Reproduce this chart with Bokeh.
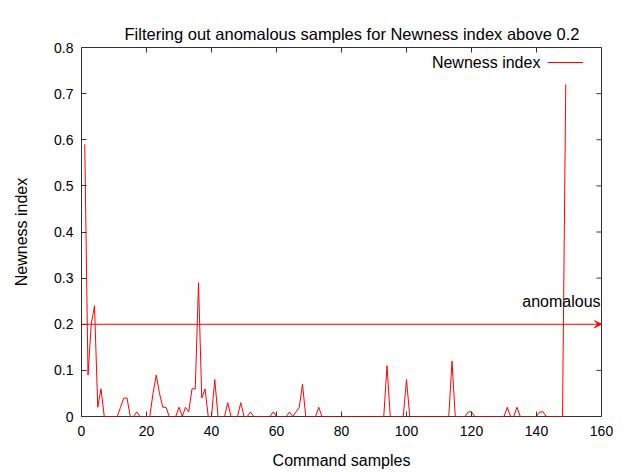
import math
from bokeh.plotting import figure
from bokeh.models import (Label, Arrow, VeeHead, FixedTicker, Legend, LinearAxis,
                          LegendItem, Range1d, ColumnDataSource)
from bokeh.embed import file_html
from bokeh.resources import INLINE

# ---- data ----
samples = list(range(1, 150))
newness = [
    0.59, 0.09, 0.20, 0.24, 0.02, 0.06, 0.00, 0.00, 0.00, 0.00,   # 1-10
    0.00, 0.02, 0.04, 0.04, 0.00, 0.00, 0.01, 0.00, 0.00, 0.00,   # 11-20
    0.00, 0.05, 0.09, 0.05, 0.02, 0.02, 0.00, 0.00, 0.00, 0.02,   # 21-30
    0.00, 0.02, 0.01, 0.06, 0.06, 0.29, 0.04, 0.06, 0.00, 0.00,   # 31-40
    0.08, 0.00, 0.00, 0.00, 0.03, 0.00, 0.00, 0.00, 0.03, 0.00,   # 41-50
    0.00, 0.01, 0.00, 0.00, 0.00, 0.00, 0.00, 0.00, 0.01, 0.00,   # 51-60
    0.00, 0.00, 0.00, 0.01, 0.00, 0.01, 0.02, 0.07, 0.00, 0.00,   # 61-70
    0.00, 0.00, 0.02, 0.00, 0.00, 0.00, 0.00, 0.00, 0.00, 0.00,   # 71-80
    0.00, 0.00, 0.00, 0.00, 0.00, 0.00, 0.00, 0.00, 0.00, 0.00,   # 81-90
    0.00, 0.00, 0.00, 0.11, 0.00, 0.00, 0.00, 0.00, 0.00, 0.08,   # 91-100
    0.00, 0.00, 0.00, 0.00, 0.00, 0.00, 0.00, 0.00, 0.00, 0.00,   # 101-110
    0.00, 0.00, 0.00, 0.12, 0.00, 0.00, 0.00, 0.00, 0.01, 0.01,   # 111-120
    0.00, 0.00, 0.00, 0.00, 0.00, 0.00, 0.00, 0.00, 0.00, 0.00,   # 121-130
    0.02, 0.00, 0.00, 0.02, 0.00, 0.00, 0.00, 0.00, 0.00, 0.00,   # 131-140
    0.01, 0.01, 0.00, 0.00, 0.00, 0.00, 0.00, 0.00, 0.72,         # 141-149
]
threshold = 0.2
x_min, x_max = 0, 160
y_min, y_max = 0, 0.8
x_ticks = [0, 20, 40, 60, 80, 100, 120, 140, 160]
y_ticks = [0, 0.1, 0.2, 0.3, 0.4, 0.5, 0.6, 0.7, 0.8]
y_tick_labels = {0: "0", 0.1: "0.1", 0.2: "0.2", 0.3: "0.3", 0.4: "0.4",
                 0.5: "0.5", 0.6: "0.6", 0.7: "0.7", 0.8: "0.8"}

FONT = "Liberation Sans"
RED = "#ff0000"
BORDER = "#333333"

p = figure(frame_width=520, frame_height=369,
           x_range=Range1d(x_min, x_max), y_range=Range1d(y_min, y_max),
           output_backend="svg", toolbar_location=None,
           min_border_left=81, min_border_right=28,
           min_border_top=47, min_border_bottom=56,
           background_fill_color="white", border_fill_color="white")

xa = p.below[0]
ya = p.left[0]

p.title.text = "Filtering out anomalous samples for Newness index above 0.2"
p.title.align = "left"
p.title.vertical_align = "bottom"
p.title.text_font = FONT
p.title.text_font_size = "16.5px"
p.title.text_font_style = "normal"
p.title.text_color = "black"
p.title.offset = 43
p.title.standoff = 10

# empty spacer axis between frame and title (no ticks, no labels)
spacer = LinearAxis(ticker=FixedTicker(ticks=[]), axis_line_color=None,
                    major_tick_in=0, major_tick_out=16, major_label_standoff=0,
                    minor_tick_line_color=None, major_tick_line_color="white")
p.add_layout(spacer, "above")

p.xgrid.visible = False
p.ygrid.visible = False
p.outline_line_color = BORDER
p.outline_line_width = 1
p.outline_line_alpha = 1

xa.ticker = FixedTicker(ticks=x_ticks)
ya.ticker = FixedTicker(ticks=y_ticks)
ya.major_label_overrides = y_tick_labels
for ax in (xa, ya):
    ax.axis_line_color = None
    ax.major_tick_in = 5
    ax.major_tick_out = 0
    ax.minor_tick_line_color = None
    ax.major_tick_line_color = BORDER
    ax.major_label_text_font = FONT
    ax.major_label_text_font_size = "14px"
    ax.major_label_text_color = "black"
    ax.axis_label_text_font = FONT
    ax.axis_label_text_font_size = "16px"
    ax.axis_label_text_font_style = "normal"
    ax.axis_label_text_color = "black"
xa.axis_label = "Command samples"
ya.axis_label = "Newness index"
xa.major_label_standoff = 9
xa.axis_label_standoff = 13
ya.major_label_standoff = 8
ya.axis_label_standoff = 21

# mirrored ticks on the top and right border (gnuplot style)
p.ray(x=x_ticks, y=[y_max] * len(x_ticks), length=5, length_units="screen",
      angle=-math.pi / 2, line_color=BORDER, line_width=1)
p.ray(x=[x_max] * len(y_ticks), y=y_ticks, length=5, length_units="screen",
      angle=math.pi, line_color=BORDER, line_width=1)

src = ColumnDataSource(dict(x=samples, y=newness))
r = p.line("x", "y", source=src, line_color=RED, line_width=1)

# threshold arrow
p.add_layout(Arrow(x_start=x_min, y_start=threshold, x_end=x_max, y_end=threshold,
                   line_color=RED, line_width=1,
                   end=VeeHead(size=7, fill_color=RED, line_color=RED)))
p.add_layout(Label(x=159.7, y=threshold + 0.05, text="anomalous",
                   text_align="right", text_baseline="middle",
                   text_font=FONT, text_font_size="16px", text_color="black"))

# legend (gnuplot style: text then line sample)
leg = Legend(items=[LegendItem(label=" ", renderers=[r])],
             location=(466, 348), glyph_width=36, glyph_height=12,
             label_standoff=0, label_width=0, label_height=12,
             label_text_font_size="14px", padding=0, margin=0, spacing=0,
             border_line_color=None, background_fill_alpha=0)
p.add_layout(leg, "center")
p.add_layout(Label(x=141.2, y=0.767, text="Newness index",
                   text_align="right", text_baseline="middle",
                   text_font=FONT, text_font_size="16px", text_color="black"))

open("out.html", "w").write(file_html(p, INLINE))
